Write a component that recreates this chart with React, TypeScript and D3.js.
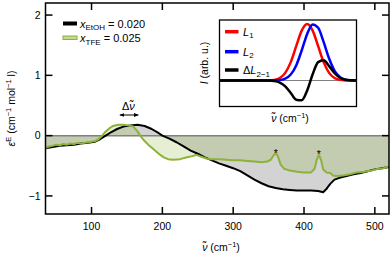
import React from "react";
import * as d3 from "d3";

// main spectrum, wavenumber (cm-1) -> excess molar absorption
const etohWn = [35, 45, 55, 65, 75, 85, 95, 105, 112, 120, 128, 136, 145, 155, 165, 175, 185, 195, 200, 210, 220, 230, 240, 250, 260, 270, 280, 290, 300, 310, 320, 330, 340, 350, 360, 370, 380, 390, 400, 410, 420, 427, 432, 437, 443, 450, 460, 470, 480, 490, 500, 510, 520];
const etohVal = [-0.21, -0.19, -0.17, -0.16, -0.15, -0.13, -0.12, -0.1, -0.06, 0.0, 0.06, 0.11, 0.15, 0.17, 0.18, 0.16, 0.11, 0.04, 0.0, -0.05, -0.11, -0.18, -0.25, -0.3, -0.36, -0.41, -0.46, -0.5, -0.54, -0.59, -0.66, -0.73, -0.79, -0.84, -0.87, -0.89, -0.9, -0.91, -0.91, -0.91, -0.92, -0.94, -0.88, -0.8, -0.73, -0.7, -0.67, -0.64, -0.62, -0.59, -0.56, -0.54, -0.52];

const tfeWn = [35, 40, 45, 50, 55, 60, 65, 70, 75, 80, 85, 90, 95, 100, 105, 110, 115, 120, 125, 130, 138, 145, 152, 159, 165, 170, 175, 180, 186, 192, 197, 202, 208, 215, 225, 235, 242, 248, 255, 262, 270, 280, 290, 300, 310, 320, 330, 340, 348, 353, 357, 360, 363, 367, 372, 380, 390, 400, 410, 415, 418, 421, 424, 427, 432, 437, 441, 445, 455, 465, 475, 485, 495, 505, 512, 520];
const tfeVal = [-0.2, -0.18, -0.17, -0.15, -0.16, -0.14, -0.15, -0.13, -0.14, -0.12, -0.13, -0.12, -0.11, -0.1, -0.09, -0.06, 0.0, 0.07, 0.12, 0.16, 0.18, 0.18, 0.17, 0.15, 0.07, -0.02, -0.09, -0.15, -0.21, -0.27, -0.32, -0.36, -0.39, -0.4, -0.39, -0.36, -0.34, -0.32, -0.35, -0.38, -0.39, -0.39, -0.4, -0.41, -0.41, -0.42, -0.43, -0.44, -0.43, -0.4, -0.33, -0.29, -0.34, -0.48, -0.55, -0.58, -0.6, -0.61, -0.61, -0.55, -0.4, -0.32, -0.4, -0.56, -0.61, -0.62, -0.66, -0.67, -0.66, -0.64, -0.61, -0.6, -0.58, -0.55, -0.54, -0.51];

const xTicks = [100, 200, 300, 400, 500];
const yTicks = [2, 1, 0, -1];
const starWn = [360, 421];

// inset schematic bands (arbitrary units)
const insetX = [0, 36, 40, 44, 48, 52, 56, 60, 64, 68, 72, 76, 80, 84, 88, 92, 96, 100];
const l1Val = [0, 0.002, 0.011, 0.044, 0.135, 0.325, 0.607, 0.882, 1.0, 0.882, 0.607, 0.325, 0.135, 0.044, 0.011, 0.002, 0, 0];
const l2Val = [0, 0, 0.001, 0.008, 0.032, 0.105, 0.267, 0.531, 0.823, 0.992, 0.932, 0.682, 0.389, 0.172, 0.06, 0.016, 0.003, 0];
const dVal = [0, -0.002, -0.01, -0.036, -0.103, -0.22, -0.34, -0.351, -0.177, 0.11, 0.325, 0.357, 0.254, 0.128, 0.049, 0.014, 0.003, 0];

const GREEN = "#8cb23a";
const FONT = "'Liberation Sans', Arial, sans-serif";

export default function App() {
  const left = 45.5, right = 389, top = 3, bottom = 214;
  const x = d3.scaleLinear().domain([35, 520]).range([left, right]);
  const y = d3.scaleLinear().domain([-1.3, 2.2]).range([bottom, top]);

  const etoh = etohWn.map((w, i) => [w, etohVal[i]] as [number, number]);
  const tfe = tfeWn.map((w, i) => [w, tfeVal[i]] as [number, number]);

  const line = d3.line<[number, number]>().x(d => x(d[0])).y(d => y(d[1]));
  const area = d3.area<[number, number]>().x(d => x(d[0])).y0(y(0)).y1(d => y(d[1]));

  const ix = d3.scaleLinear().domain([0, 100]).range([219.5, 356.5]);
  const iy = d3.scaleLinear().domain([-0.46, 1.07]).range([106.5, 20]);
  const iline = d3.line<number>().x((_, i) => ix(insetX[i])).y(d => iy(d)).curve(d3.curveMonotoneX);

  const tk = 7;

  return (
    <>
      <style>{`body{margin:0}`}</style>
      <svg width={392} height={261} style={{ display: "block", fontFamily: FONT }}>
        <defs>
          <marker id="ah" viewBox="0 0 10 10" refX="9" refY="5" markerWidth="5" markerHeight="5" orient="auto-start-reverse">
            <path d="M0,1 L10,5 L0,9 z" fill="#000" />
          </marker>
        </defs>

        {/* fills */}
        <path d={area(etoh) || ""} fill="#808080" fillOpacity={0.35} />
        <path d={area(tfe) || ""} fill={GREEN} fillOpacity={0.22} />
        <line x1={left} x2={right} y1={y(0)} y2={y(0)} stroke="#808080" strokeWidth={1.5} />

        <path d={line(etoh) || ""} fill="none" stroke="#000" strokeWidth={2} strokeLinejoin="round" />
        <path d={line(tfe) || ""} fill="none" stroke={GREEN} strokeWidth={2} strokeLinejoin="round" />

        {starWn.map(w => {
          const i = tfeWn.indexOf(w);
          return (
            <text key={w} x={x(w)} y={y(tfeVal[i]) + 3.5} fontSize={10.5} textAnchor="middle">*</text>
          );
        })}

        {/* delta nu annotation */}
        <text x={x(152)} y={110} fontSize={11} textAnchor="middle">
          Δ<tspan fontStyle="italic">ν̃</tspan>
        </text>
        <line x1={x(140)} x2={x(166)} y1={115} y2={115} stroke="#000" strokeWidth={1}
          markerStart="url(#ah)" markerEnd="url(#ah)" />

        {/* frame and ticks */}
        <rect x={left} y={top} width={right - left} height={bottom - top} fill="none" stroke="#000" strokeWidth={1.5} />
        {xTicks.map(t => (
          <g key={t}>
            <line x1={x(t)} x2={x(t)} y1={bottom} y2={bottom - tk} stroke="#000" strokeWidth={1.5} />
            <line x1={x(t)} x2={x(t)} y1={top} y2={top + tk} stroke="#000" strokeWidth={1.5} />
            <text x={x(t)} y={230} fontSize={10.5} textAnchor="middle">{t}</text>
          </g>
        ))}
        {yTicks.map(t => (
          <g key={t}>
            <line x1={left} x2={left + tk} y1={y(t)} y2={y(t)} stroke="#000" strokeWidth={1.5} />
            <line x1={right} x2={right - tk} y1={y(t)} y2={y(t)} stroke="#000" strokeWidth={1.5} />
            <text x={left - 5} y={y(t) + 3.8} fontSize={10.5} textAnchor="end">{t < 0 ? "−" + Math.abs(t) : t}</text>
          </g>
        ))}

        {/* axis labels */}
        <text x={221} y={251} fontSize={10.5} textAnchor="middle">
          <tspan fontStyle="italic">ν̃</tspan> (cm<tspan dy={-4} fontSize={7.5}>−1</tspan><tspan dy={4}>)</tspan>
        </text>
        <text transform={`translate(15,${(top + bottom) / 2}) rotate(-90)`} fontSize={10.5} textAnchor="middle">
          <tspan fontStyle="italic">ε</tspan><tspan dy={-4} fontSize={7.5}>E</tspan>
          <tspan dy={4}> (cm</tspan><tspan dy={-4} fontSize={7.5}>−1</tspan>
          <tspan dy={4}> mol</tspan><tspan dy={-4} fontSize={7.5}>−1</tspan>
          <tspan dy={4}> l)</tspan>
        </text>

        {/* legend */}
        <rect x={63} y={21.5} width={14} height={4} fill="#000" />
        <text x={80} y={27.5} fontSize={11}>
          <tspan fontStyle="italic">x</tspan><tspan dy={2.5} fontSize={8}>EtOH</tspan><tspan dy={-2.5}> = 0.020</tspan>
        </text>
        <rect x={63} y={36} width={14} height={3.5} fill="#c5d98e" stroke={GREEN} strokeWidth={1} />
        <text x={80} y={42} fontSize={11}>
          <tspan fontStyle="italic">x</tspan><tspan dy={2.5} fontSize={8}>TFE</tspan><tspan dy={-2.5}> = 0.025</tspan>
        </text>

        {/* inset */}
        <rect x={219.5} y={20} width={137} height={86.5} fill="#fff" stroke="#000" strokeWidth={1.3} />
        <line x1={ix(0)} x2={ix(100)} y1={iy(0)} y2={iy(0)} stroke="#808080" strokeWidth={1.2} />
        <path d={iline(l1Val) || ""} fill="none" stroke="#ff0000" strokeWidth={2.5} />
        <path d={iline(l2Val) || ""} fill="none" stroke="#0000ff" strokeWidth={2.5} />
        <path d={iline(dVal) || ""} fill="none" stroke="#000" strokeWidth={2.5} />

        <line x1={225} x2={238.5} y1={31.7} y2={31.7} stroke="#ff0000" strokeWidth={3.5} />
        <text x={243} y={35.8} fontSize={11}><tspan fontStyle="italic">L</tspan><tspan dy={2.5} fontSize={8}>1</tspan></text>
        <line x1={225} x2={238.5} y1={51.7} y2={51.7} stroke="#0000ff" strokeWidth={3.5} />
        <text x={243} y={55.8} fontSize={11}><tspan fontStyle="italic">L</tspan><tspan dy={2.5} fontSize={8}>2</tspan></text>
        <line x1={225} x2={238.5} y1={70} y2={70} stroke="#000" strokeWidth={3.5} />
        <text x={243} y={74} fontSize={11}>Δ<tspan fontStyle="italic">L</tspan><tspan dy={2.5} fontSize={8}>2−1</tspan></text>

        <text transform={`translate(208,63) rotate(-90)`} fontSize={10.5} textAnchor="middle">
          <tspan fontStyle="italic">I</tspan> (arb. u.)
        </text>
        <text x={290} y={122} fontSize={10.5} textAnchor="middle">
          <tspan fontStyle="italic">ν̃</tspan> (cm<tspan dy={-4} fontSize={7.5}>−1</tspan><tspan dy={4}>)</tspan>
        </text>
      </svg>
    </>
  );
}
